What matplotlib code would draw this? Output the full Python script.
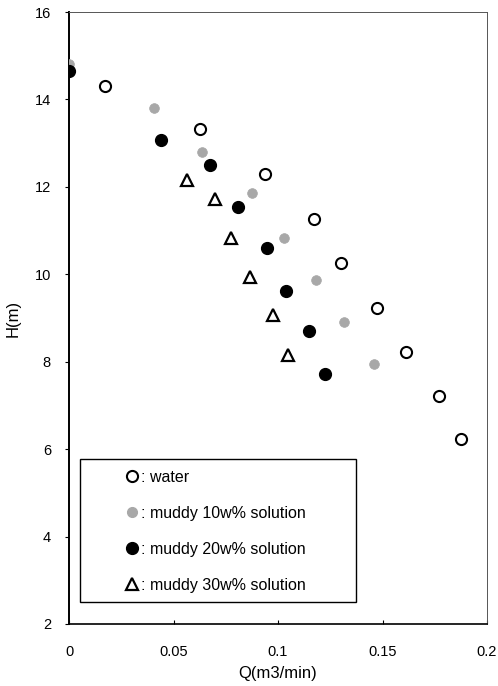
import matplotlib
matplotlib.use("Agg")
import matplotlib.pyplot as plt
from matplotlib.patches import Rectangle
from matplotlib.lines import Line2D

plt.rcParams['font.family'] = ['Liberation Sans', 'DejaVu Sans']

# water
q_water = [0.0172, 0.0625, 0.094, 0.1172, 0.130, 0.1473, 0.1614, 0.177, 0.1875]
h_water = [14.31, 13.32, 12.29, 11.26, 10.25, 9.23, 8.23, 7.21, 6.23]
# muddy 10w%
q_m10 = [0.0, 0.0406, 0.0636, 0.0877, 0.103, 0.118, 0.1317, 0.146]
h_m10 = [14.82, 13.80, 12.80, 11.87, 10.84, 9.88, 8.91, 7.94]
# muddy 20w%
q_m20 = [0.0, 0.0439, 0.0676, 0.081, 0.0949, 0.104, 0.1147, 0.1223]
h_m20 = [14.66, 13.07, 12.50, 11.53, 10.59, 9.62, 8.70, 7.73]
# muddy 30w%
q_m30 = [0.0565, 0.0697, 0.0773, 0.0864, 0.0978, 0.105]
h_m30 = [12.16, 11.72, 10.82, 9.94, 9.07, 8.15]

labels = [': water', ': muddy 10w% solution', ': muddy 20w% solution',
          ': muddy 30w% solution']

fig = plt.figure(figsize=(4.98, 6.86), dpi=100)
ax = fig.add_axes([0.1386, 0.0904, 0.8394, 0.8921])

ax.plot(q_water, h_water, 'o', ms=8, mfc='white', mec='black', mew=1.5,
        linestyle='none', zorder=3)
ax.plot(q_m10, h_m10, 'o', ms=7, mfc='#a8a8a8', mec='#a8a8a8', mew=0.5,
        linestyle='none', zorder=3)
ax.plot(q_m20, h_m20, 'o', ms=8.5, mfc='black', mec='black',
        linestyle='none', zorder=4)
ax.plot(q_m30, h_m30, '^', ms=8, mfc='white', mec='black', mew=1.6,
        linestyle='none', zorder=3)

ax.set_xlim(0, 0.2)
ax.set_ylim(2, 16)
ax.set_xticks([0, 0.05, 0.1, 0.15, 0.2])
ax.set_xticklabels(['0', '0.05', '0.1', '0.15', '0.2'])
ax.set_yticks([2, 4, 6, 8, 10, 12, 14, 16])
ax.tick_params(axis='x', direction='in', length=3, pad=15, labelsize=10.5)
ax.tick_params(axis='y', direction='out', length=3, pad=10, labelsize=10.5)

ax.spines['left'].set_linewidth(1.4)
ax.spines['bottom'].set_linewidth(1.2)
ax.spines['top'].set_linewidth(0.7)
ax.spines['top'].set_color('#555555')
ax.spines['right'].set_linewidth(0.7)
ax.spines['right'].set_color('#555555')

ax.set_xlabel('Q(m3/min)', fontsize=12, labelpad=5)
ax.set_ylabel('H(m)', fontsize=12, labelpad=10)

# legend box
box = Rectangle((0.027, 0.036), 0.66, 0.234, transform=ax.transAxes,
                fill=False, edgecolor='black', lw=1.0, zorder=5)
ax.add_patch(box)

handles = [
    Line2D([], [], marker='o', ls='none', ms=8, mfc='white', mec='black', mew=1.5),
    Line2D([], [], marker='o', ls='none', ms=7, mfc='#a8a8a8', mec='#a8a8a8'),
    Line2D([], [], marker='o', ls='none', ms=8.5, mfc='black', mec='black'),
    Line2D([], [], marker='^', ls='none', ms=8, mfc='white', mec='black', mew=1.6),
]
leg = ax.legend(handles, labels, loc='upper left',
                bbox_to_anchor=(0.135, 0.252), frameon=False, fontsize=11.5,
                handlelength=0.8, handletextpad=0.15, labelspacing=1.32,
                borderaxespad=0, borderpad=0)

fig.savefig('out.png', dpi=100)
